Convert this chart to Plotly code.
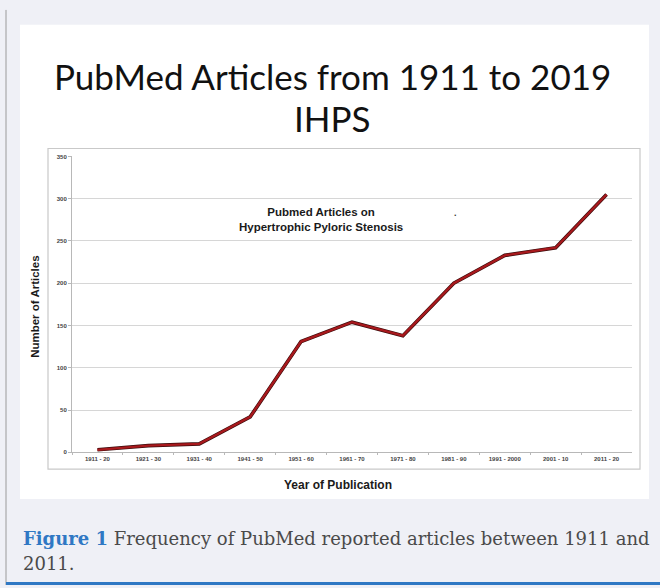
import plotly.graph_objects as go

periods = ["1911 - 20", "1921 - 30", "1931 - 40", "1941 - 50", "1951 - 60", "1961 - 70",
           "1971 - 80", "1981 - 90", "1991 - 2000", "2001 - 10", "2011 - 20"]
articles = [3, 8, 10, 42, 131, 154, 138, 200, 233, 242, 305]
y_ticks = [0, 50, 100, 150, 200, 250, 300, 350]

W, H = 660, 588
def px(x): return x / W
def py(y): return 1 - y / H

fig = go.Figure()
# dark edge under the line
fig.add_trace(go.Scatter(x=periods, y=articles, mode="lines",
                         line=dict(color="#3a0c0c", width=3.6), hoverinfo="skip", showlegend=False))
fig.add_trace(go.Scatter(x=periods, y=articles, mode="lines",
                         line=dict(color="#a8191d", width=2.4), showlegend=False))

shapes = [
    dict(type="rect", xref="paper", yref="paper", x0=px(20), x1=px(649), y0=py(501), y1=py(22),
         fillcolor="white", line=dict(width=0), layer="below"),
    dict(type="rect", xref="paper", yref="paper", x0=px(48), x1=px(640), y0=py(471), y1=py(147),
         fillcolor="white", line=dict(color="#c9c9c9", width=1.2), layer="below"),
    dict(type="line", xref="paper", yref="paper", x0=px(6), x1=px(6), y0=py(588), y1=py(7),
         line=dict(color="#9a9a9a", width=1)),
    dict(type="line", xref="paper", yref="paper", x0=px(6), x1=px(660), y0=py(586.5), y1=py(586.5),
         line=dict(color="#2f78c4", width=3)),
]

annotations = [
    dict(text="PubMed Articles from 1911 to 2019", xref="paper", yref="paper", x=px(332), y=py(74),
         showarrow=False, font=dict(family="Lato", size=35, color="#111111"), xanchor="center", yanchor="middle"),
    dict(text="IHPS", xref="paper", yref="paper", x=px(332), y=py(116),
         showarrow=False, font=dict(family="Lato", size=35, color="#111111"), xanchor="center", yanchor="middle"),
    dict(text="<b>Pubmed Articles on<br>Hypertrophic Pyloric Stenosis</b>", xref="paper", yref="paper",
         x=px(321), y=py(219), showarrow=False, align="center",
         font=dict(family="Liberation Sans", size=11.5, color="#1a1a1a"), xanchor="center", yanchor="middle"),
    dict(text="<b>.</b>", xref="paper", yref="paper", x=px(455), y=py(212), showarrow=False,
         font=dict(family="Liberation Sans", size=9, color="#333"), xanchor="center", yanchor="middle"),
    dict(text="<b>Number of Articles</b>", xref="paper", yref="paper", x=px(35), y=py(307),
         showarrow=False, textangle=-90, font=dict(family="Liberation Sans", size=11.5, color="#1a1a1a"),
         xanchor="center", yanchor="middle"),
    dict(text="<b>Year of Publication</b>", xref="paper", yref="paper", x=px(338), y=py(487),
         showarrow=False, font=dict(family="Liberation Sans", size=12, color="#1a1a1a"),
         xanchor="center", yanchor="middle"),
    dict(text="<b><span style='color:#2f78c4'>Figure 1</span></b> Frequency of PubMed reported articles between 1911 and",
         xref="paper", yref="paper", x=px(21), y=py(541), showarrow=False,
         font=dict(family="DejaVu Serif", size=18, color="#4a4a4a"), xanchor="left", yanchor="middle"),
    dict(text="2011.", xref="paper", yref="paper", x=px(21), y=py(566), showarrow=False,
         font=dict(family="DejaVu Serif", size=18, color="#4a4a4a"), xanchor="left", yanchor="middle"),
]

fig.update_layout(
    width=W, height=H, margin=dict(l=0, r=0, t=0, b=0),
    paper_bgcolor="#eff0f6", plot_bgcolor="white",
    shapes=shapes, annotations=annotations, showlegend=False,
    xaxis=dict(domain=[px(72), px(632)], type="category", categoryorder="array", categoryarray=periods,
               range=[-0.5, len(periods) - 0.5],
               showgrid=False, showline=True, linecolor="#b8b8b8", linewidth=1,
               ticks="outside", ticklen=2, tickcolor="#b8b8b8", tickson="boundaries",
               tickfont=dict(family="Liberation Sans", size=6, color="#444"),
               tickvals=periods, ticktext=["<b>%s</b>" % p for p in periods], zeroline=False),
    yaxis=dict(domain=[py(454), py(155)], range=[0, 350], tickvals=y_ticks,
               ticktext=["<b>%d</b>" % v for v in y_ticks],
               showgrid=True, gridcolor="#d6d6d6", gridwidth=1.2,
               showline=True, linecolor="#b8b8b8", linewidth=1,
               ticks="outside", ticklen=3, tickcolor="#b8b8b8",
               tickfont=dict(family="Liberation Sans", size=6, color="#444"), zeroline=False),
)

fig.write_html("out.html")
